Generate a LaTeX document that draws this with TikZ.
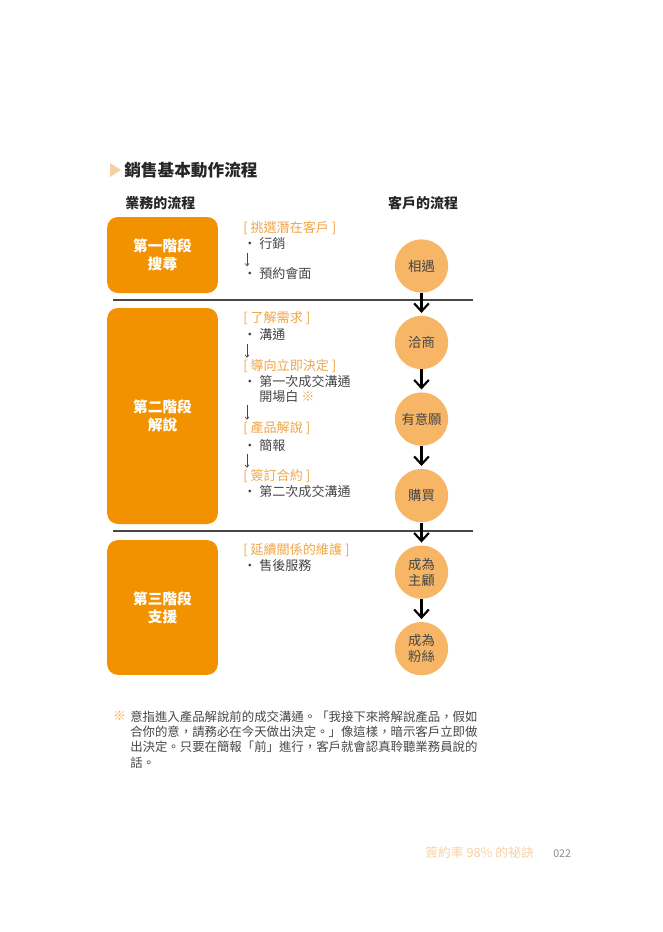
\documentclass[tikz,border=0pt]{standalone}
\usepackage{fontspec}
\setmainfont{Noto Sans CJK TC}
\usetikzlibrary{positioning,arrows.meta}
\definecolor{stageorange}{RGB}{243,146,0}
\definecolor{circleorange}{RGB}{246,182,102}
\definecolor{tagorange}{RGB}{240,164,70}
\definecolor{textgray}{RGB}{70,70,70}
\definecolor{footorange}{RGB}{246,208,165}
\begin{document}
\begin{tikzpicture}[x=0.75pt,y=-0.75pt]
        \tikzstyle{stage}=[fill=stageorange, rounded corners=8pt, text=white, font=\fontsize{11}{13.5}\selectfont\bfseries, align=center, minimum width=83pt]
        \tikzstyle{client}=[circle, fill=circleorange, minimum size=40pt, inner sep=0pt, text=textgray, font=\fontsize{10}{12}\selectfont, align=center]
        \tikzstyle{tag}=[anchor=west, inner sep=0pt, text=tagorange, font=\fontsize{9.8}{11}\selectfont]
        \tikzstyle{item}=[anchor=west, inner sep=0pt, text=textgray, font=\fontsize{9.8}{11.3}\selectfont, align=left]
        \tikzstyle{flow}=[line width=1.6pt, -{Straight Barb[length=6pt, width=11pt, line width=1.6pt]}]
        \tikzstyle{thinflow}=[line width=0.5pt, textgray, shorten <=2pt, shorten >=1pt, -{Straight Barb[length=1.8pt, width=3pt]}]
        \tikzstyle{heading}=[inner sep=0pt, text=black!85, font=\fontsize{10.5}{12}\selectfont\bfseries]
        \useasboundingbox (0,0) rectangle (663,932);
        % Title
        \fill[footorange] (110,163) -- (121,170) -- (110,177) -- cycle;
        \node[heading, anchor=west, font=\fontsize{12.5}{15}\selectfont\bfseries] (title) at (124,170) {銷售基本動作流程};
        \node[heading, anchor=west] (salesflow) at (125,203) {業務的流程};
        \node[heading] (clientflow) at (423,203) {客戶的流程};
        % Stages
        \node[stage, minimum height=57pt] (stage1) at (162.5,255) {第一階段\\搜尋};
        \node[stage, minimum height=162pt] (stage2) at (162.5,416) {第二階段\\解說};
        \node[stage, minimum height=101pt] (stage3) at (162.5,607.5) {第三階段\\支援};
        \draw[textgray, line width=0.9pt] (113,300) -- (473,300);
        \draw[textgray, line width=0.9pt] (113,531) -- (473,531);
        % Stage 1 items
        \node[tag] (find) at (243,228) {[ 挑選潛在客戶 ]};
        \node[item] (market) at (243,244) {・ 行銷};
        \node[item] (meet) at (243,274) {・ 預約會面};
        \draw[thinflow] ([xshift=3pt]market.south west) -- ([xshift=3pt]meet.north west);
        % Stage 2 items
        \node[tag] (needs) at (243,318) {[ 了解需求 ]};
        \node[item] (talk) at (243,335) {・ 溝通};
        \node[tag] (decide) at (243,366) {[ 導向立即決定 ]};
        \node[item, anchor=north west] (first) at (243,375) {・ 第一次成交溝通\\\hphantom{・ }開場白 \textcolor{tagorange}{※}};
        \node[tag] (explain) at (243,428) {[ 產品解說 ]};
        \node[item] (brief) at (243,445) {・ 簡報};
        \node[tag] (sign) at (243,476) {[ 簽訂合約 ]};
        \node[item] (second) at (243,492) {・ 第二次成交溝通};
        \draw[thinflow] ([xshift=3pt]talk.south west) -- ([xshift=3pt]decide.north west);
        \draw[thinflow] ([xshift=3pt]first.south west) -- ([xshift=3pt]explain.north west);
        \draw[thinflow] ([xshift=3pt]brief.south west) -- ([xshift=3pt]sign.north west);
        % Stage 3 items
        \node[tag] (keep) at (243,550) {[ 延續關係的維護 ]};
        \node[item] (service) at (243,566) {・ 售後服務};
        % Client flow
        \node[client] (c1) at (421.5,266) {相遇};
        \node[client, below=17pt of c1] (c2) {洽商};
        \node[client, below=17pt of c2] (c3) {有意願};
        \node[client, below=17pt of c3] (c4) {購買};
        \node[client, below=17pt of c4] (c5) {成為\\主顧};
        \node[client, below=17pt of c5] (c6) {成為\\粉絲};
        \foreach \a/\b in {c1/c2, c2/c3, c3/c4, c4/c5, c5/c6}
            \draw[flow, shorten >=2pt] (\a.south) -- (\b.north);
        % Note
        \node[item, anchor=north west, font=\fontsize{9.3}{11.3}\selectfont] (note) at (130,711) {意指進入產品解說前的成交溝通。「我接下來將解說產品，假如\\合你的意，請務必在今天做出決定。」像這樣，暗示客戶立即做\\出決定。只要在簡報「前」進行，客戶就會認真聆聽業務員說的\\話。};
        \node[anchor=north east, inner sep=0pt, xshift=-3pt, text=tagorange, font=\fontsize{9.3}{11.3}\selectfont] (mark) at (note.north west) {※};
        % Footer
        \node[anchor=west, inner sep=0pt, text=footorange, font=\fontsize{9.6}{10}\selectfont] (book) at (425,853) {簽約率 98\% 的祕訣};
        \node[anchor=west, inner sep=0pt, text=black!45, font=\fontsize{8}{10}\selectfont] (page) at (553,854) {022};
\end{tikzpicture}
\end{document}
